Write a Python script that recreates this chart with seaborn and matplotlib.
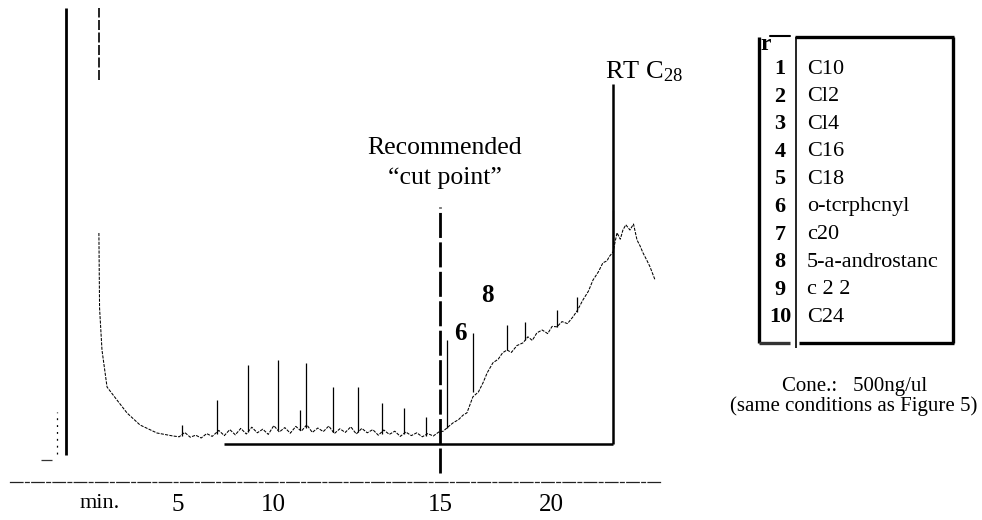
import matplotlib
matplotlib.use("Agg")
import matplotlib.pyplot as plt
import seaborn as sns

# Retention time (min) and detector response along the chromatogram trace
trace_time = [-0.55, -0.52, -0.41, -0.18, 0.27, 0.73, 1.32, 2.09, 2.82, 3.1,
              3.35, 3.6, 3.85, 4.1, 4.35, 4.6, 4.9, 5.15, 5.4, 5.65,
              5.9, 6.15, 6.4, 6.65, 6.9, 7.15, 7.4, 7.65, 7.9, 8.15,
              8.4, 8.65, 8.9, 9.15, 9.4, 9.65, 9.9, 10.15, 10.4, 10.65,
              10.9, 11.15, 11.4, 11.65, 11.9, 12.15, 12.4, 12.65, 12.9, 13.15,
              13.4, 13.65, 13.9, 14.15, 14.4, 14.65, 14.9, 15.1, 15.35, 15.55,
              15.8, 16.0, 16.18, 16.45, 16.7, 16.91, 17.1, 17.36, 17.6, 17.8,
              18.0, 18.2, 18.45, 18.73, 18.95, 19.15, 19.36, 19.6, 19.85, 20.05,
              20.27, 20.5, 20.75, 21.0, 21.2, 21.45, 21.7, 21.91, 22.15, 22.36,
              22.55, 22.64, 22.82, 23.0, 23.15, 23.27, 23.4, 23.59, 23.75, 23.91,
              24.05, 24.18, 24.35, 24.5, 24.73]
trace_signal = [51.75, 33.0, 22.5, 13.25, 10.0, 6.75, 3.75, 1.75, 1.0, 0.8,
                1.9, 0.7, 1.2, 0.5, 1.6, 0.9, 2.4, 1.1, 2.6, 1.3,
                2.9, 1.5, 3.2, 1.8, 2.7, 1.4, 3.6, 2.0, 3.1, 1.7,
                3.4, 2.2, 3.8, 1.9, 3.0, 2.1, 3.5, 1.6, 2.8, 1.9,
                3.3, 1.5, 2.9, 1.8, 2.6, 1.2, 2.5, 1.4, 2.2, 0.9,
                2.0, 1.1, 1.8, 0.8, 1.6, 1.0, 2.0, 2.2, 3.4, 4.3,
                5.1, 6.2, 6.8, 10.8, 12.0, 14.3, 16.8, 19.3, 20.2, 21.8,
                22.5, 21.9, 23.6, 24.3, 25.8, 24.9, 26.8, 27.5, 26.6, 28.4,
                28.3, 29.6, 29.1, 30.8, 32.4, 35.0, 37.2, 40.0, 42.0, 44.3,
                44.8, 45.8, 47.0, 51.8, 50.2, 52.5, 53.8, 52.5, 54.0, 50.0,
                48.5, 46.8, 45.0, 43.3, 40.0]

# Resolved peaks: retention time, apex and foot of each spike
peak_time = [3.23, 4.82, 6.23, 7.59, 8.59, 8.86, 10.09, 11.23, 12.32, 13.32,
             14.32, 15.27, 16.45, 18.0, 18.82, 20.27, 21.18, 22.82]
peak_top = [3.75, 10.0, 18.75, 20.0, 7.5, 19.25, 13.25, 13.25, 9.25, 8.0,
            5.75, 25.0, 26.75, 28.75, 29.5, 32.5, 35.75, 57.5]
peak_foot = [1.0, 1.5, 2.0, 2.5, 2.5, 3.0, 2.0, 2.0, 1.5, 1.5,
             1.0, 3.0, 12.0, 22.5, 25.0, 28.3, 32.0, 47.0]

# Off-scale solvent front, the clipped peak just after it, and the
# injection blip ahead of it
solvent_time, solvent_foot, solvent_top = -2.05, -3.75, 108.0
clipped_time, clipped_foot, clipped_top = -0.545, 90.0, 108.0
blip_time, blip_foot, blip_top = -2.45, -3.5, 7.0
offset_start, offset_end, offset_level = -3.18, -2.68, -5.0

# Reference markers
cut_point_time, cut_low, cut_high = 14.95, -8.25, 58.25
c28_time, c28_top = 22.8, 89.0
window_start, window_level = 5.14, -1.0

# Numbered peak labels
label_text = ["6", "8"]
label_time = [15.86, 17.09]
label_signal = [26.75, 36.25]

# Time axis annotations
tick_time = [-0.5, 3.05, 7.36, 14.95, 20.0]
tick_labels = ["min.", "5", "10", "15", "20"]
axis_level = -10.5

# Peak identification table
legend_ids = ["1", "2", "3", "4", "5", "6", "7", "8", "9", "10"]
legend_names = ["C10", "Cl2", "Cl4", "C16", "C18", "o-tcrphcnyl", "c20",
                "5-a-androstanc", "c 2 2", "C24"]

sns.set_theme(style="white")
serif = ["Liberation Serif", "DejaVu Serif"]
plt.rcParams["font.family"] = serif
plt.rcParams["mathtext.fontset"] = "custom"
plt.rcParams["mathtext.rm"] = "Liberation Serif"
plt.rcParams["mathtext.it"] = "Liberation Serif:italic"
plt.rcParams["mathtext.bf"] = "Liberation Serif:bold"

W, H = 982, 520
fig = plt.figure(figsize=(W / 100, H / 100), dpi=100)
fig.patch.set_facecolor("white")

# ---- chromatogram ----
ax = fig.add_axes([0, 0, 700 / W, 1])
ax.set_facecolor("white")
sns.lineplot(x=trace_time, y=trace_signal, ax=ax, color="black",
             linewidth=0.75, estimator=None, sort=False,
             linestyle=(0, (3, 1.2)))
ax.vlines(peak_time, peak_foot, peak_top, colors="black", linewidth=0.9)

ax.vlines([solvent_time], [solvent_foot], [solvent_top], colors="black",
          linewidth=2.0)
ax.vlines([clipped_time], [clipped_foot], [clipped_top], colors="black",
          linewidth=1.2, linestyles=[(0, (6, 1.5))])
ax.vlines([blip_time], [blip_foot], [blip_top], colors="black",
          linewidth=0.9, linestyles=[(0, (1.5, 4))])
ax.hlines([offset_level], [offset_start], [offset_end], colors="#333333",
          linewidth=0.9)

ax.vlines([cut_point_time], [cut_low], [cut_high], colors="black",
          linewidth=2.0, linestyles=[(0, (9, 1.6))])
ax.vlines([c28_time], [window_level], [c28_top], colors="black", linewidth=1.8)
ax.hlines([window_level], [window_start], [c28_time], colors="black",
          linewidth=1.8)

for txt, t, s in zip(label_text, label_time, label_signal):
    ax.text(t, s, txt, ha="center", va="center", fontsize=18,
            fontweight="bold", color="black")

ax.text(15.18, 73, "Recommended", ha="center", va="center", fontsize=18.5,
        color="black")
ax.text(15.18, 65.5, "\u201ccut point\u201d", ha="center", va="center",
        fontsize=18.5, color="black")
ax.text(c28_time - 0.35, 92, r"RT C$_{28}$", ha="left", va="center",
        fontsize=19, color="black")

ax.set_xlim((0 - 441) / 22 + 15, (700 - 441) / 22 + 15)
ax.set_ylim(-20, 110)
for side in ("top", "left", "right"):
    ax.spines[side].set_visible(False)
ax.spines["bottom"].set_position(("data", axis_level))
ax.spines["bottom"].set_bounds(-4.6, 24.95)
ax.spines["bottom"].set_linestyle((0, (10, 2, 3, 2)))
ax.spines["bottom"].set_linewidth(0.9)
ax.spines["bottom"].set_color("#222222")
ax.set_xticks(tick_time, tick_labels)
ax.tick_params(axis="x", length=0, pad=8.5, labelsize=18, colors="black")
ax.get_xticklabels()[0].set_fontsize(16)
ax.set_yticks([])
ax.set_xlabel("")
ax.set_ylabel("")

# ---- peak identification table (pixel layout) ----
lax = fig.add_axes([740 / W, 0, (W - 740) / W, 1])
lax.set_xlim(740, W)
lax.set_ylim(H, 0)
lax.axis("off")

box_l, box_r, box_t, box_b, sep_x = 759, 953, 37, 343, 796
lax.plot([box_l, box_l], [box_t, box_b], color="black", lw=2.4,
         solid_capstyle="butt")
lax.plot([box_r, box_r], [box_t, box_b], color="black", lw=2.4,
         solid_capstyle="butt")
lax.plot([sep_x - 1, box_r + 1], [box_t, box_t], color="black", lw=2.4,
         solid_capstyle="butt")
lax.plot([box_l, 790], [box_b, box_b], color="#333333", lw=2.4,
         solid_capstyle="butt")
lax.plot([799, box_r + 1], [box_b, box_b], color="black", lw=2.4,
         solid_capstyle="butt")
lax.plot([sep_x, sep_x], [box_t, 348], color="black", lw=1.2,
         solid_capstyle="butt")
lax.plot([770, 790], [36, 36], color="black", lw=1.5)
lax.text(766, 44, "r", ha="center", va="center", fontsize=17,
         fontweight="bold", color="black")

row_first, row_step = 69, 27.6
for i, (num, name) in enumerate(zip(legend_ids, legend_names)):
    y = row_first + i * row_step
    lax.text(780, y, num, ha="center", va="center", fontsize=16,
             fontweight="bold", color="black")
    lax.text(807, y, name, ha="left", va="center", fontsize=16,
             color="black")

lax.text(855, 386, "Cone.:   500ng/ul", ha="center", va="center",
         fontsize=15, color="black")
lax.text(854, 406, "(same conditions as Figure 5)", ha="center",
         va="center", fontsize=15, color="black")

fig.savefig("out.png", dpi=100, facecolor="white")
